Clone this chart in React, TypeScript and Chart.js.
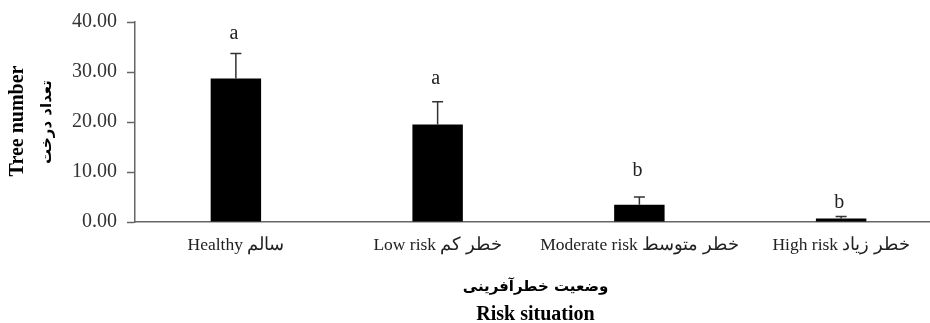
import React, { useEffect, useRef } from "react";
import { Chart, registerables } from "chart.js";

Chart.register(...registerables);

const categories = ["Healthy سالم", "Low risk خطر کم", "Moderate risk خطر متوسط", "High risk خطر زیاد"];
const means = [28.7, 19.5, 3.45, 0.7];
const errors = [5.0, 4.55, 1.55, 0.4];
const letters = ["a", "a", "b", "b"];
const letterLevels = [36.7, 27.7, 9.2, 2.86];
const yTicks = [0, 10, 20, 30, 40];
const yTitle = ["Tree number", "تعداد درخت"];
const xTitle = ["وضعیت خطرآفرینی", "Risk situation"];

const SERIF = "'Liberation Serif', 'Times New Roman', serif";

const errorPlugin = {
  id: "errorBarsLetters",
  afterDatasetsDraw(chart: any) {
    const ctx = chart.ctx;
    const meta = chart.getDatasetMeta(0);
    const y = chart.scales.y;
    ctx.save();
    meta.data.forEach((bar: any, i: number) => {
      const x = bar.x;
      const yTop = y.getPixelForValue(means[i] + errors[i]);
      const yBase = y.getPixelForValue(means[i]);
      ctx.strokeStyle = "#333";
      ctx.lineWidth = 1.5;
      ctx.beginPath();
      ctx.moveTo(x, yBase);
      ctx.lineTo(x, yTop);
      ctx.moveTo(x - 5.5, yTop);
      ctx.lineTo(x + 5.5, yTop);
      ctx.stroke();
      ctx.fillStyle = "#222";
      ctx.font = `20px ${SERIF}`;
      ctx.textAlign = "center";
      ctx.textBaseline = "alphabetic";
      ctx.fillText(letters[i], x - 2, y.getPixelForValue(letterLevels[i]));
    });
    ctx.restore();
  },
};

const titlePlugin = {
  id: "axisTitles",
  afterDraw(chart: any) {
    const ctx = chart.ctx;
    const area = chart.chartArea;
    ctx.save();
    ctx.fillStyle = "#000";
    ctx.translate(18, 121);
    ctx.rotate(-Math.PI / 2);
    ctx.textAlign = "center";
    ctx.textBaseline = "middle";
    ctx.font = `bold 20px ${SERIF}`;
    ctx.fillText(yTitle[0], 0, 0);
    ctx.font = `bold 15px 'DejaVu Sans', sans-serif`;
    ctx.fillText(yTitle[1], -1, 29);
    ctx.restore();
    ctx.save();
    ctx.fillStyle = "#000";
    ctx.textAlign = "center";
    const cx = (area.left + area.right) / 2 - 3;
    ctx.textBaseline = "middle";
    ctx.font = `bold 15px 'DejaVu Sans', sans-serif`;
    ctx.fillText(xTitle[0], cx, 287);
    ctx.textBaseline = "alphabetic";
    ctx.font = `bold 20px ${SERIF}`;
    ctx.fillText(xTitle[1], cx, 320);
    ctx.restore();
  },
};

export default function App() {
  const ref = useRef<HTMLCanvasElement>(null);
  useEffect(() => {
    if (!ref.current) return;
    const chart = new Chart(ref.current, {
      type: "bar",
      data: {
        labels: categories,
        datasets: [
          {
            data: means,
            backgroundColor: "#000",
            borderWidth: 0,
            barPercentage: 0.25,
            categoryPercentage: 1,
          },
        ],
      },
      options: {
        responsive: false,
        animation: false,
        devicePixelRatio: 1,
        layout: { padding: { top: 22, right: 3, left: 0, bottom: 0 } },
        plugins: { legend: { display: false }, tooltip: { enabled: false } },
        scales: {
          x: {
            grid: { display: false, drawTicks: false },
            border: { display: true, color: "#666", width: 1.5 },
            ticks: {
              color: "#222",
              font: { family: SERIF, size: 17.5 },
              padding: 13,
              maxRotation: 0,
              autoSkip: false,
            },
            afterFit: (s: any) => {
              s.height = 101;
            },
          },
          y: {
            min: 0,
            max: 40,
            afterBuildTicks: (s: any) => {
              s.ticks = yTicks.map((v) => ({ value: v }));
            },
            grid: { drawOnChartArea: false, drawTicks: true, tickLength: 8, tickColor: "#666", tickWidth: 1.5 },
            border: { display: true, color: "#666", width: 1.5 },
            ticks: {
              color: "#333",
              font: { family: SERIF, size: 20 },
              padding: 10,
              callback: (v: any) => Number(v).toFixed(2),
            },
            afterFit: (s: any) => {
              s.width = 135;
            },
          },
        },
      },
      plugins: [errorPlugin, titlePlugin],
    });
    return () => chart.destroy();
  }, []);
  return (
    <div style={{ position: "absolute", left: 0, top: 0, width: 930, height: 323, overflow: "hidden", background: "#fff" }}>
      <canvas ref={ref} width={945} height={323} style={{ width: 945, height: 323, display: "block" }} />
    </div>
  );
}
